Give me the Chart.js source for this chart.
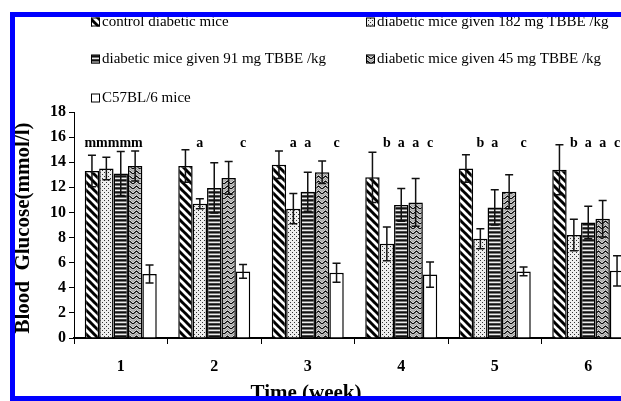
<!DOCTYPE html>
<html>
<head>
<meta charset="utf-8">
<script src="https://cdn.jsdelivr.net/npm/chart.js@4.4.1/dist/chart.umd.min.js"></script>
<style>
    html, body { margin: 0; padding: 0; background: #fff; overflow: hidden; }
    #wrap { position: relative; width: 621px; height: 401px; overflow: hidden; }
    #chart { position: absolute; left: 0; top: 0; }
    #frame {
        position: absolute; left: 10px; top: 12px; width: 700px; height: 379px;
        border-top: 5px solid #0000ff; border-left: 5px solid #0000ff; border-bottom: 5px solid #0000ff;
        pointer-events: none;
    }
</style>
</head>
<body>
<div id="wrap">
    <canvas id="chart" width="650" height="401"></canvas>
    <div id="frame"></div>
</div>
<script>
const weeks = ['1', '2', '3', '4', '5', '6'];
const seriesNames = [
    'control diabetic mice',
    'diabetic mice given 182 mg TBBE /kg',
    'diabetic mice given 91 mg TBBE /kg',
    'diabetic mice given 45 mg TBBE /kg',
    'C57BL/6 mice'
];

// mean blood glucose (mmol/l)
const controlMeans = [13.3, 13.7, 13.8, 12.8, 13.5, 13.4];
const tbbe182Means = [13.5, 10.7, 10.3, 7.5, 7.9, 8.2];
const tbbe91Means  = [13.1, 11.95, 11.65, 10.6, 10.4, 9.2];
const tbbe45Means  = [13.7, 12.75, 13.2, 10.8, 11.65, 9.5];
const c57Means     = [5.1, 5.3, 5.2, 5.05, 5.3, 5.35];

// error bars (SD)
const controlErr = [1.25, 1.3, 1.1, 2.0, 1.1, 2.0];
const tbbe182Err = [0.9, 0.4, 1.2, 1.35, 0.8, 1.25];
const tbbe91Err  = [1.75, 2.0, 1.55, 1.3, 1.4, 1.3];
const tbbe45Err  = [1.2, 1.3, 0.9, 1.9, 1.35, 1.45];
const c57Err     = [0.72, 0.55, 0.75, 1.0, 0.35, 1.2];

// significance letters above bars (per week, per series)
const groupNote = ['mmmmm', '', '', '', '', ''];
const sigLetters = [
    ['', '', '', '', ''],
    ['', 'a', '', '', 'c'],
    ['', 'a', 'a', '', 'c'],
    ['', 'b', 'a', 'a', 'c'],
    ['', 'b', 'a', '', 'c'],
    ['', 'b', 'a', 'a', 'c']
];

const yTicks = [0, 2, 4, 6, 8, 10, 12, 14, 16, 18];

const SERIF = '"Liberation Serif", "Times New Roman", serif';

function makePattern(w, h, draw) {
    const c = document.createElement('canvas');
    c.width = w; c.height = h;
    const g = c.getContext('2d');
    g.fillStyle = '#fff';
    g.fillRect(0, 0, w, h);
    draw(g);
    return g.createPattern(c, 'repeat');
}

const diagFill = makePattern(8, 8, g => {
    g.strokeStyle = '#000';
    g.lineWidth = 3;
    [-8, 0, 8].forEach(k => {
        g.beginPath();
        g.moveTo(k - 1, -1);
        g.lineTo(k + 9, 9);
        g.stroke();
    });
});

const dotFill = makePattern(4, 4, g => {
    g.fillStyle = '#eee';
    g.fillRect(0, 0, 4, 4);
    g.fillStyle = '#333';
    g.fillRect(0, 0, 1, 1);
    g.fillRect(2, 2, 1, 1);
});

const hlineFill = makePattern(4, 4, g => {
    g.fillStyle = '#111'; g.fillRect(0, 0, 4, 1);
    g.fillStyle = '#777'; g.fillRect(0, 1, 4, 1);
    g.fillStyle = '#eee'; g.fillRect(0, 2, 4, 1);
    g.fillStyle = '#444'; g.fillRect(0, 3, 4, 1);
});

const zigFill = makePattern(7, 5, g => {
    g.lineWidth = 1.3;
    g.strokeStyle = '#999';
    [-3.5, 1.5].forEach(a => {
        g.beginPath();
        g.moveTo(0, a + 5); g.lineTo(3.5, a + 2); g.lineTo(7, a + 5);
        g.stroke();
    });
    g.strokeStyle = '#000';
    g.beginPath();
    g.moveTo(0, 4); g.lineTo(3.5, 1); g.lineTo(7, 4);
    g.stroke();
});

const fills = [diagFill, dotFill, hlineFill, zigFill, '#fff'];
const means = [controlMeans, tbbe182Means, tbbe91Means, tbbe45Means, c57Means];
const errs = [controlErr, tbbe182Err, tbbe91Err, tbbe45Err, c57Err];

// error bars, significance letters, legend and axis titles
const extrasPlugin = {
    id: 'extras',
    afterDatasetsDraw(chart) {
        const ctx = chart.ctx;
        const yScale = chart.scales.y;
        ctx.save();
        ctx.strokeStyle = '#111';
        ctx.lineWidth = 1.5;
        means.forEach((vals, d) => {
            const meta = chart.getDatasetMeta(d);
            vals.forEach((v, i) => {
                const x = meta.data[i].x;
                const top = yScale.getPixelForValue(v + errs[d][i]);
                const bot = yScale.getPixelForValue(v - errs[d][i]);
                ctx.beginPath();
                ctx.moveTo(x, top); ctx.lineTo(x, bot);
                ctx.moveTo(x - 4, top); ctx.lineTo(x + 4, top);
                ctx.moveTo(x - 4, bot); ctx.lineTo(x + 4, bot);
                ctx.stroke();
            });
        });

        ctx.fillStyle = '#000';
        ctx.font = 'bold 14px ' + SERIF;
        ctx.textAlign = 'center';
        ctx.textBaseline = 'middle';
        const letterY = 143;
        weeks.forEach((w, i) => {
            if (groupNote[i]) {
                const x0 = chart.getDatasetMeta(0).data[i].x;
                const x3 = chart.getDatasetMeta(3).data[i].x;
                ctx.fillText(groupNote[i], (x0 + x3) / 2, letterY);
            }
            sigLetters[i].forEach((s, d) => {
                if (!s) return;
                ctx.fillText(s, chart.getDatasetMeta(d).data[i].x, letterY);
            });
        });
        ctx.restore();
    },
    afterDraw(chart) {
        const ctx = chart.ctx;
        ctx.save();
        // legend
        const legendPos = [[91, 22], [366, 22], [91, 59], [366, 59], [91, 98]];
        ctx.font = '15px ' + SERIF;
        ctx.textAlign = 'left';
        ctx.textBaseline = 'middle';
        seriesNames.forEach((name, d) => {
            const [x, y] = legendPos[d];
            ctx.fillStyle = fills[d];
            ctx.fillRect(x, y - 4.5, 9, 9);
            ctx.strokeStyle = '#000';
            ctx.lineWidth = 1;
            ctx.strokeRect(x + 0.5, y - 4, 8, 8);
            ctx.fillStyle = '#000';
            ctx.fillText(name, x + 11, y);
        });

        // axis titles
        ctx.font = 'bold 21px ' + SERIF;
        ctx.textAlign = 'center';
        ctx.textBaseline = 'middle';
        ctx.save();
        ctx.translate(24, 228);
        ctx.rotate(-Math.PI / 2);
        ctx.fillText('Blood  Glucose(mmol/l)', 0, 0);
        ctx.restore();
        ctx.textBaseline = 'top';
        ctx.fillText('Time (week)', 306, 383);
        ctx.restore();
    }
};

const ctx = document.getElementById('chart').getContext('2d');
new Chart(ctx, {
    type: 'bar',
    data: {
        labels: weeks,
        datasets: seriesNames.map((name, d) => ({
            label: name,
            data: means[d],
            backgroundColor: fills[d],
            borderColor: '#000',
            borderWidth: 1.5,
            categoryPercentage: 0.77,
            barPercentage: 1.0
        }))
    },
    options: {
        responsive: false,
        animation: false,
        layout: { padding: { top: 112, right: 15, left: 0, bottom: 0 } },
        plugins: {
            legend: { display: false },
            tooltip: { enabled: false }
        },
        scales: {
            y: {
                min: 0,
                max: 18,
                afterBuildTicks: s => { s.ticks = yTicks.map(v => ({ value: v })); },
                ticks: {
                    color: '#000',
                    padding: 3,
                    font: { family: SERIF, weight: 'bold', size: 16 }
                },
                grid: { drawOnChartArea: false, tickLength: 5, color: '#000' },
                border: { color: '#000', width: 1 },
                afterFit: s => { s.width = 74; }
            },
            x: {
                ticks: {
                    color: '#000',
                    padding: 13,
                    font: { family: SERIF, weight: 'bold', size: 16 }
                },
                grid: { drawOnChartArea: false, tickLength: 6, color: '#000', offset: true },
                border: { color: '#000', width: 2 },
                afterFit: s => { s.height = 63; }
            }
        }
    },
    plugins: [extrasPlugin]
});
</script>
</body>
</html>
